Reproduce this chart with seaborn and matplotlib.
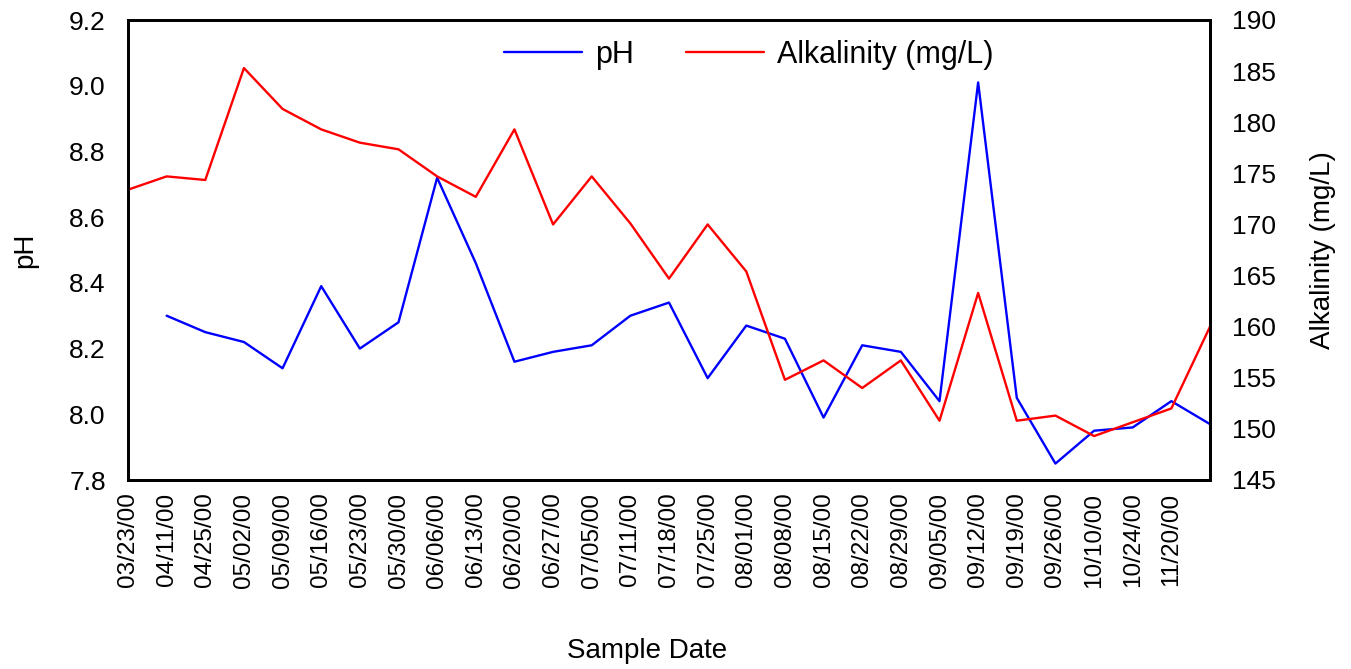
import numpy as np
import pandas as pd
import matplotlib
matplotlib.use("Agg")
import matplotlib.pyplot as plt
import seaborn as sns

dates = ["03/23/00", "04/11/00", "04/25/00", "05/02/00", "05/09/00", "05/16/00",
         "05/23/00", "05/30/00", "06/06/00", "06/13/00", "06/20/00", "06/27/00",
         "07/05/00", "07/11/00", "07/18/00", "07/25/00", "08/01/00", "08/08/00",
         "08/15/00", "08/22/00", "08/29/00", "09/05/00", "09/12/00", "09/19/00",
         "09/26/00", "10/10/00", "10/24/00", "11/20/00", ""]

ph = [np.nan, 8.30, 8.25, 8.22, 8.14, 8.39, 8.20, 8.28, 8.72, 8.46, 8.16, 8.19,
      8.21, 8.30, 8.34, 8.11, 8.27, 8.23, 7.99, 8.21, 8.19, 8.04, 9.01, 8.05,
      7.85, 7.95, 7.96, 8.04, 7.97]

alkalinity = [173.4, 174.7, 174.35, 185.3, 181.3, 179.3, 178.0, 177.35, 174.7,
              172.7, 179.3, 170.0, 174.7, 170.1, 164.7, 170.0, 165.4, 154.8,
              156.7, 154.0, 156.7, 150.8, 163.3, 150.8, 151.3, 149.3, 150.65,
              152.0, 160.0]

sns.set_style("white")
plt.rcParams['font.family'] = ['Liberation Sans', 'DejaVu Sans']
plt.rcParams['text.color'] = 'black'
plt.rcParams['axes.labelcolor'] = 'black'
plt.rcParams['xtick.color'] = 'black'
plt.rcParams['ytick.color'] = 'black'

df = pd.DataFrame({"pos": np.arange(len(dates)), "ph": ph, "alk": alkalinity})

fig = plt.figure(figsize=(13.51, 6.69), dpi=100)
ax = fig.add_axes([128/1351, (669-480)/669, (1210-128)/1351, 460/669])
ax2 = ax.twinx()

sns.lineplot(data=df, x="pos", y="ph", ax=ax, color="#0000FF", linewidth=1.7,
             label="pH", legend=False)
sns.lineplot(data=df, x="pos", y="alk", ax=ax2, color="#FF0000", linewidth=1.7,
             label="Alkalinity (mg/L)", legend=False)

ax.set_xlim(0, len(dates) - 1)
ax.set_ylim(7.8, 9.2)
ax.set_yticks(np.arange(7.8, 9.21, 0.2))
ax.set_yticklabels([f"{v:.1f}" for v in np.arange(7.8, 9.21, 0.2)], fontsize=19)
ax2.set_ylim(145, 190)
ax2.set_yticks(np.arange(145, 191, 5))
ax2.set_yticklabels([str(v) for v in range(145, 191, 5)], fontsize=19)

ax.set_xticks(np.arange(len(dates)))
ax.set_xticklabels(dates, rotation=90, fontsize=17.5)

ax.set_xlabel("Sample Date", fontsize=20)
ax.xaxis.set_label_coords(0.48, -0.343)
ax.set_ylabel("pH", fontsize=20, labelpad=22)
ax2.set_ylabel("Alkalinity (mg/L)", fontsize=20, labelpad=24)

for a in (ax, ax2):
    a.tick_params(axis="y", length=0, pad=16)
    a.tick_params(axis="x", length=0, pad=9)
    a.grid(False)
    for s in a.spines.values():
        s.set_color("black")
        s.set_linewidth(2)

h1, l1 = ax.get_legend_handles_labels()
h2, l2 = ax2.get_legend_handles_labels()
ax2.legend(h1 + h2, l1 + l2, loc="center", bbox_to_anchor=(0.574, 0.925),
           ncol=2, frameon=False, fontsize=22, handlelength=2.55,
           columnspacing=1.7, handletextpad=0.43)

fig.savefig("out.png", dpi=100)
